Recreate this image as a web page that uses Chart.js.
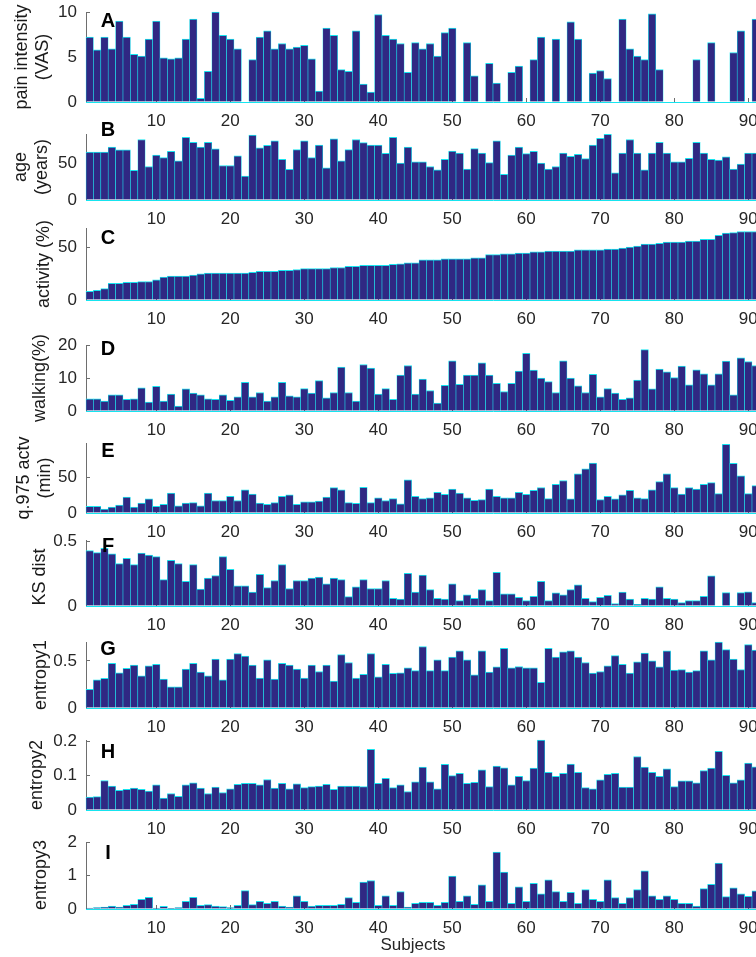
<!DOCTYPE html>
<html>
<head>
<meta charset="utf-8">
<script src="https://cdn.jsdelivr.net/npm/chart.js@4.4.1/dist/chart.umd.min.js"></script>
<style>
  html, body { margin: 0; padding: 0; width: 756px; height: 957px; overflow: hidden; background: #fff; }
  #fig { position: relative; width: 756px; height: 957px; overflow: hidden; }
  #fig canvas { position: absolute; left: 0; }
  .letter { position: absolute; font: bold 20px "Liberation Sans", Arial, sans-serif; color: #000; transform: translate(-50%, -50%); }
  .ytitle { position: absolute; font: 18px "Liberation Sans", Arial, sans-serif; color: #1a1a1a; line-height: 21px;
            white-space: pre; text-align: center; transform: translate(-50%, -50%) rotate(-90deg); }
  .xtitle { position: absolute; font: 17px "Liberation Sans", Arial, sans-serif; color: #262626; transform: translate(-50%, -50%); }
</style>
</head>
<body>
<div id="fig"></div>
<script>
// ---- data ----
const subjects = [1,2,3,4,5,6,7,8,9,10,11,12,13,14,15,16,17,18,19,20,21,22,23,24,25,26,27,28,29,30,
  31,32,33,34,35,36,37,38,39,40,41,42,43,44,45,46,47,48,49,50,51,52,53,54,55,56,57,58,59,60,
  61,62,63,64,65,66,67,68,69,70,71,72,73,74,75,76,77,78,79,80,81,82,83,84,85,86,87,88,89,90,91];
const xTicks = [10, 20, 30, 40, 50, 60, 70, 80, 90];

const painVAS = [7.2,5.8,7.2,5.9,9.0,7.2,5.3,5.1,7.0,9.0,
  4.9,4.8,4.9,7.0,9.2,0.4,3.4,10.0,7.4,7.0,
  5.9,null,4.7,7.2,7.9,5.9,6.5,5.9,6.1,6.3,
  4.8,1.2,8.2,7.4,3.6,3.4,7.9,2.0,1.1,9.7,
  7.4,7.0,6.5,3.3,6.6,5.9,6.5,5.1,7.7,8.2,
  null,6.6,2.9,null,4.3,2.1,null,3.3,4.0,null,
  4.7,7.2,null,7.0,null,8.9,7.0,null,3.2,3.5,
  2.6,null,9.2,5.9,5.1,4.7,9.8,3.6,null,null,
  null,null,4.7,null,6.6,null,null,5.5,7.9,null,
  9.2];
const ageYears = [65.4,65.4,65.4,72.2,68.4,68.4,40.6,82.5,45.7,61.1,
  57.7,66.2,53.4,85.5,78.6,72.2,78.6,69.7,47,47,
  60.3,32.5,88.5,71,74.4,80.8,55.6,41.9,68.8,80.8,
  57.7,74.8,44,83.3,53.4,68.8,82.5,78.2,74.8,74.8,
  63.7,85.5,50.4,72.2,52.1,52.1,45.7,41,55.6,66.7,
  64.1,42.3,70.1,64.1,50.9,80.8,35,61.1,72.2,63.2,
  66.2,50.4,42.3,45.7,64.1,59.4,62.4,56.4,74.8,84.2,
  89.7,37.2,64.1,82.5,64.1,41,64.1,78.6,64.1,52.1,
  52.1,56.8,78.6,64.1,55.6,54.3,59,42.3,49.1,64.1,
  64.1];
const activityPct = [8.2,9.2,10.8,15.7,15.7,16.7,16.7,17.3,17.3,19,
  21.6,22.5,22.5,22.5,23.5,24.8,25.5,25.5,25.5,25.5,
  25.5,25.5,26.1,27.1,27.1,27.1,28.1,28.1,28.8,29.7,
  29.7,29.7,29.7,30.7,30.7,31.7,31.7,32.7,32.7,32.7,
  32.7,33.7,34.2,35,35,37.9,37.9,37.9,38.9,38.9,
  38.9,38.9,39.9,39.9,42.8,42.8,43.5,43.5,44.4,44.4,
  45.4,45.4,46.1,46.1,46.1,46.1,47.4,47.4,47.4,47.4,
  48,48,49,50,51,52.9,52.9,53.6,54.6,54.6,
  54.6,55.6,55.6,57.2,57.2,61.1,63.1,63.7,64.7,64.7,
  64.7];
const walkingPct = [3.7,3.7,3.0,4.9,4.9,3.5,3.7,7.0,2.7,7.5,
  3.0,5.1,1.5,6.7,5.4,4.9,3.7,3.5,4.9,3.2,
  4.3,8.7,4.3,5.6,3.0,4.3,8.7,4.6,4.3,6.8,
  5.4,9.2,4.0,5.6,13.3,5.6,3.0,14.1,13.0,5.1,
  6.8,3.5,10.9,13.8,5.1,9.7,6.2,2.4,7.8,15.2,
  8.1,10.9,10.9,14.6,10.9,8.4,5.9,8.4,12.1,17.5,
  12.4,10.0,8.9,5.6,15.2,10.0,7.6,5.6,11.1,4.3,
  6.8,5.4,3.5,4.0,9.4,18.6,6.7,12.7,11.9,10.1,
  13.6,7.9,12.5,11.3,7.9,11.3,15.1,4.9,16.1,15.0,
  13.8];
const q975Min = [9.3,9.3,5.5,8.3,11.2,22.3,8.3,13.8,19.7,9.3,
  12.3,28.0,10.1,13.8,14.6,10.1,28.0,17.5,17.5,23.5,
  17.5,32.4,26.4,13.8,12.3,14.6,23.5,25.4,12.3,15.6,
  15.6,16.8,22.3,35.5,32.4,14.6,13.4,36.1,14.6,21.3,
  17.5,20.1,13.0,46.6,23.5,20.1,21.3,29.0,26.1,33.5,
  28.0,21.3,17.9,18.7,33.5,23.5,21.3,21.3,28.8,26.1,
  31.7,35.7,20.1,40.0,45.5,19.7,55.0,62.0,70.0,18.7,
  23.5,19.7,25.4,31.7,21.3,20.1,32.4,43.9,55.0,35.5,
  26.4,35.5,33.5,40.0,42.6,27.1,96.0,69.7,52.2,27.1,
  38.4];
const ksDist = [0.428,0.413,0.445,0.404,0.327,0.368,0.320,0.409,0.394,0.382,
  0.204,0.353,0.327,0.190,0.320,0.130,0.216,0.236,0.382,0.284,
  0.156,0.156,0.108,0.245,0.142,0.197,0.320,0.135,0.197,0.197,
  0.216,0.224,0.171,0.216,0.204,0.072,0.149,0.204,0.135,0.135,
  0.197,0.060,0.053,0.252,0.108,0.238,0.127,0.060,0.053,0.171,
  0.041,0.087,0.060,0.127,0.041,0.260,0.094,0.094,0.067,0.041,
  0.075,0.190,0.041,0.101,0.087,0.127,0.163,0.060,0.034,0.067,
  0.082,0.019,0.108,0.053,0.012,0.060,0.053,0.149,0.060,0.053,
  0.026,0.041,0.041,0.075,0.233,0,0.103,0,0.103,0.110,
  0.026];
const entropy1 = [0.199,0.298,0.315,0.473,0.374,0.421,0.454,0.341,0.447,0.464,
  0.308,0.225,0.225,0.414,0.473,0.381,0.341,0.520,0.298,0.520,
  0.576,0.550,0.454,0.318,0.510,0.308,0.473,0.454,0.414,0.318,
  0.454,0.387,0.454,0.285,0.566,0.483,0.318,0.358,0.576,0.331,
  0.464,0.368,0.374,0.427,0.397,0.652,0.397,0.510,0.397,0.540,
  0.606,0.510,0.351,0.606,0.381,0.437,0.632,0.427,0.440,0.427,
  0.427,0.272,0.632,0.540,0.596,0.606,0.540,0.483,0.371,0.387,
  0.447,0.556,0.464,0.371,0.490,0.583,0.500,0.437,0.606,0.401,
  0.407,0.381,0.397,0.606,0.510,0.700,0.619,0.520,0.407,0.672,
  0.613];
const entropy2 = [0.038,0.039,0.086,0.070,0.057,0.060,0.064,0.060,0.055,0.073,
  0.035,0.048,0.040,0.073,0.079,0.064,0.048,0.067,0.051,0.062,
  0.075,0.078,0.078,0.073,0.089,0.064,0.078,0.062,0.076,0.065,
  0.068,0.070,0.075,0.060,0.070,0.070,0.070,0.068,0.177,0.078,
  0.092,0.065,0.073,0.054,0.082,0.125,0.082,0.062,0.133,0.100,
  0.107,0.078,0.081,0.117,0.068,0.128,0.123,0.073,0.098,0.086,
  0.122,0.204,0.110,0.098,0.107,0.134,0.110,0.065,0.062,0.088,
  0.104,0.107,0.067,0.067,0.156,0.125,0.110,0.098,0.120,0.068,
  0.085,0.085,0.079,0.115,0.122,0.171,0.101,0.079,0.088,0.137,
  0.126];
const entropy3 = [0.03,0.04,0.06,0.09,0.06,0.11,0.14,0.29,0.35,0.03,
  0.08,0.02,0.04,0.23,0.35,0.11,0.13,0.09,0.07,0.04,
  0.11,0.55,0.13,0.23,0.17,0.23,0.09,0.06,0.39,0.23,
  0.09,0.11,0.11,0.11,0.14,0.34,0.20,0.80,0.85,0.11,
  0.39,0.11,0.52,0.06,0.17,0.20,0.20,0.11,0.20,0.98,
  0.23,0.39,0.14,0.72,0.23,1.70,1.10,0.17,0.66,0.23,
  0.77,0.45,0.87,0.52,0.23,0.50,0.17,0.58,0.29,0.23,
  0.87,0.34,0.17,0.34,0.58,1.14,0.39,0.29,0.39,0.29,
  0.17,0.17,0.09,0.61,0.74,1.37,0.37,0.63,0.45,0.38,
  0.54];

// y tick labels and axis tops of each panel
const painTicks = [0, 5, 10];
const ageTicks = [0, 50];
const activityTicks = [0, 50];
const walkingTicks = [0, 10, 20];
const q975Ticks = [0, 50];
const ksTicks = [0, 0.5];
const entropy1Ticks = [0, 0.5];
const entropy2Ticks = [0, 0.1, 0.2];
const entropy3Ticks = [0, 1, 2];
const yTops = [10, 90, 68, 20, 98, 0.51, 0.7, 0.204, 2];

const panels = [
  { letter: 'A', title: 'pain intensity\n(VAS)', values: painVAS, ticks: painTicks },
  { letter: 'B', title: 'age\n(years)', values: ageYears, ticks: ageTicks },
  { letter: 'C', title: 'activity (%)', values: activityPct, ticks: activityTicks },
  { letter: 'D', title: 'walking(%)', values: walkingPct, ticks: walkingTicks },
  { letter: 'E', title: 'q.975 actv\n(min)', values: q975Min, ticks: q975Ticks },
  { letter: 'F', title: 'KS dist', values: ksDist, ticks: ksTicks },
  { letter: 'G', title: 'entropy1', values: entropy1, ticks: entropy1Ticks },
  { letter: 'H', title: 'entropy2', values: entropy2, ticks: entropy2Ticks },
  { letter: 'I', title: 'entropy3', values: entropy3, ticks: entropy3Ticks }
];

// ---- layout ----
const zeroLine = [102, 200, 300, 410.5, 513, 605.5, 708, 810, 908.5];  // page y of each baseline
const plotH = [90, 66, 72, 66, 70, 66, 66, 70, 67];
const letterY = [20, 129, 236.5, 347.5, 450, 545, 648, 751, 852];
const titleX = [32, 31, 42.5, 39, 34, 38.5, 40, 36, 40];
const titleDY = [0, 0, 0, 0, 0, 4, 0, 0, 0];

const FONT = '"Liberation Sans", Arial, Helvetica, sans-serif';
const TXT = '#262626';
const AXIS = '#6e6e6e';
const FILL = '#302883';
const EDGE = '#16e4ef';
const PAD_TOP = 26, AXIS_H = 34, LEFT = 86, W = 900, PX_PER_SUBJ = 7.4;
const xMax = 0.5 + (W - LEFT) / PX_PER_SUBJ;

Chart.defaults.font.family = FONT;
const fig = document.getElementById('fig');

panels.forEach((p, i) => {
  const cv = document.createElement('canvas');
  cv.width = W;
  cv.height = PAD_TOP + plotH[i] + AXIS_H;
  cv.style.width = W + 'px';
  cv.style.height = cv.height + 'px';
  cv.style.top = (zeroLine[i] - plotH[i] - PAD_TOP) + 'px';
  fig.appendChild(cv);

  new Chart(cv, {
    type: 'bar',
    data: {
      datasets: [{
        data: subjects.map((s, k) => ({ x: s, y: p.values[k] })),
        backgroundColor: FILL,
        borderColor: EDGE,
        borderWidth: { top: 1, left: 0.6, right: 0.6, bottom: 0 },
        barPercentage: 1,
        categoryPercentage: 1,
        clip: false
      }]
    },
    options: {
      responsive: false,
      animation: false,
      devicePixelRatio: 1,
      layout: { padding: { top: PAD_TOP, left: 0, right: 0, bottom: 0 } },
      plugins: { legend: { display: false }, tooltip: { enabled: false } },
      scales: {
        x: {
          type: 'linear',
          offset: false,
          min: 0.5,
          max: xMax,
          afterBuildTicks: ax => { ax.ticks = xTicks.map(v => ({ value: v })); },
          afterFit: ax => { ax.height = AXIS_H; },
          ticks: { autoSkip: false, maxRotation: 0, padding: 13, color: TXT, font: { size: 17 } },
          grid: { display: true, offset: false, drawOnChartArea: false, drawTicks: true, tickLength: -4, tickColor: AXIS },
          border: { display: true, color: EDGE, width: 1, z: 1 }
        },
        y: {
          min: 0,
          max: yTops[i],
          afterBuildTicks: ax => { ax.ticks = p.ticks.map(v => ({ value: v })); },
          afterFit: ax => { ax.width = LEFT; },
          ticks: { padding: 13, color: TXT, font: { size: 17 }, callback: v => String(v) },
          grid: { display: true, drawOnChartArea: false, drawTicks: true, tickLength: -4, tickColor: AXIS },
          border: { display: true, color: AXIS, width: 1 }
        }
      }
    }
  });

  const letter = document.createElement('div');
  letter.className = 'letter';
  letter.textContent = p.letter;
  letter.style.left = '108px';
  letter.style.top = letterY[i] + 'px';
  fig.appendChild(letter);

  const t = document.createElement('div');
  t.className = 'ytitle';
  t.textContent = p.title;
  t.style.left = titleX[i] + 'px';
  t.style.top = (zeroLine[i] - plotH[i] / 2 + titleDY[i]) + 'px';
  fig.appendChild(t);
});

const xt = document.createElement('div');
xt.className = 'xtitle';
xt.textContent = 'Subjects';
xt.style.left = '413px';
xt.style.top = '945px';
fig.appendChild(xt);
</script>
</body>
</html>
